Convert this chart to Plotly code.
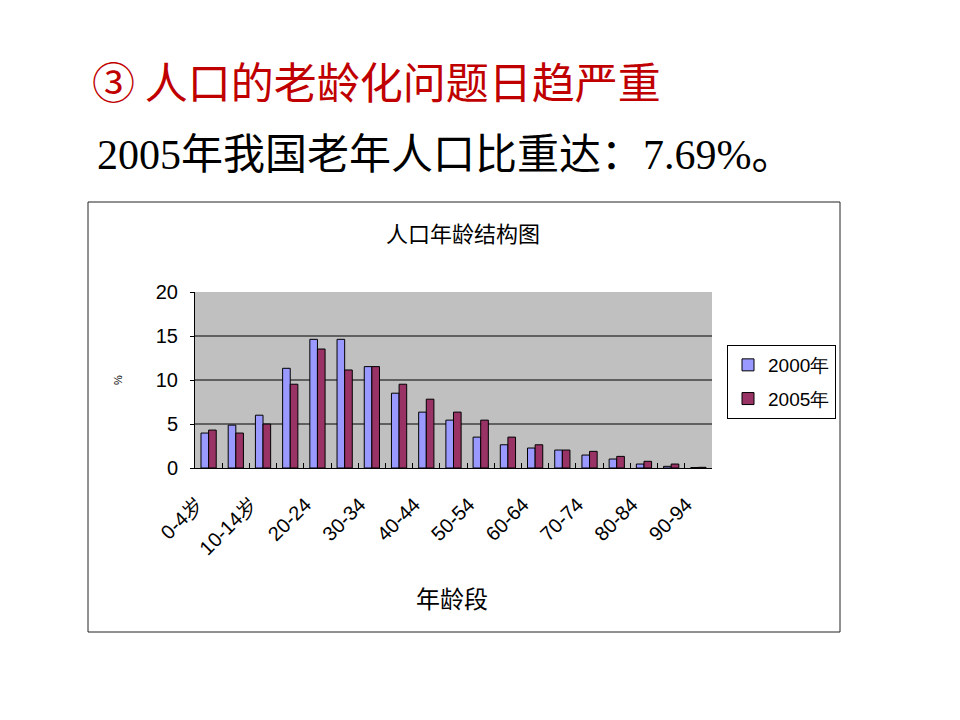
import plotly.graph_objects as go

categories = ["0-4岁", "5-9岁", "10-14岁", "15-19", "20-24", "25-29", "30-34", "35-39",
              "40-44", "45-49", "50-54", "55-59", "60-64", "65-69", "70-74", "75-79",
              "80-84", "85-89", "90-94"]
shown_labels = ["0-4岁", "", "10-14岁", "", "20-24", "", "30-34", "", "40-44", "",
                "50-54", "", "60-64", "", "70-74", "", "80-84", "", "90-94"]
pop_2000 = [3.97, 4.87, 6.0, 11.33, 14.62, 14.62, 11.52, 8.5, 6.35, 5.44,
            3.51, 2.64, 2.27, 2.04, 1.47, 1.02, 0.45, 0.19, 0.05]
pop_2005 = [4.31, 3.97, 4.99, 9.52, 13.52, 11.14, 11.52, 9.52, 7.82, 6.35,
            5.44, 3.51, 2.64, 2.04, 1.89, 1.32, 0.76, 0.45, 0.08]
series_names = ["2000年", "2005年"]
y_ticks = [0, 5, 10, 15, 20]
grid_values = [5, 10, 15]

W, H = 960, 720
def px(x): return x / W
def py(y): return 1 - y / H

fig = go.Figure()
fig.add_trace(go.Bar(x=categories, y=pop_2000, name=series_names[0], legendgroup="a",
                     marker=dict(color="#9999FF", line=dict(color="#000000", width=1))))
fig.add_trace(go.Bar(x=categories, y=pop_2005, name=series_names[1], legendgroup="b",
                     marker=dict(color="#993366", line=dict(color="#000000", width=1))))

shapes = [
    dict(type="rect", xref="paper", yref="paper", x0=px(88), x1=px(840), y0=py(632), y1=py(202),
         line=dict(color="#222222", width=1), fillcolor="rgba(0,0,0,0)", layer="below"),
]
for g in grid_values:
    shapes.append(dict(type="line", xref="x domain", yref="y", x0=0, x1=1, y0=g, y1=g,
                       line=dict(color="#000000", width=1.2), layer="below"))

annotations = [
    dict(text="③ 人口的老龄化问题日趋严重", x=px(90), y=py(80), xref="paper", yref="paper",
         xanchor="left", yanchor="middle", showarrow=False,
         font=dict(family="Noto Sans CJK SC", size=43, color="#C00000")),
    dict(text="2005年我国老年人口比重达：7.69%。", x=px(95), y=py(155), xref="paper", yref="paper",
         xanchor="left", yanchor="middle", showarrow=False,
         font=dict(family="Liberation Serif, Noto Sans CJK SC", size=42, color="#000000")),
    dict(text="人口年龄结构图", x=px(463), y=py(232), xref="paper", yref="paper",
         xanchor="center", yanchor="middle", showarrow=False,
         font=dict(family="Noto Sans CJK SC", size=22, color="#000000")),
    dict(text="年龄段", x=px(452), y=py(597), xref="paper", yref="paper",
         xanchor="center", yanchor="middle", showarrow=False,
         font=dict(family="Noto Sans CJK SC", size=24, color="#000000")),
    dict(text="%", x=px(118), y=py(380), xref="paper", yref="paper", textangle=-90,
         xanchor="center", yanchor="middle", showarrow=False,
         font=dict(family="Liberation Sans", size=11, color="#000000")),
]

fig.update_layout(
    width=W, height=H, autosize=False,
    margin=dict(l=0, r=0, t=0, b=0, pad=0, autoexpand=False),
    paper_bgcolor="#FFFFFF", plot_bgcolor="#C0C0C0",
    barmode="group", bargap=0.44, bargroupgap=0,
    showlegend=True,
    legend=dict(x=px(727), y=py(345), xanchor="left", yanchor="top",
                bgcolor="#FFFFFF", bordercolor="#000000", borderwidth=1,
                font=dict(family="Liberation Sans", size=19, color="#000000"),
                tracegroupgap=6, traceorder="grouped", itemwidth=30),
    xaxis=dict(domain=[px(195), px(712)], type="category", automargin=False,
               tickmode="array", tickvals=categories, ticktext=shown_labels,
               tickangle=-45, tickson="boundaries", ticks="inside", ticklen=5,
               tickcolor="#000000", showline=True, linecolor="#000000", linewidth=1,
               showgrid=False, ticklabelstandoff=16, ticklabelshift=-12,
               tickfont=dict(family="Liberation Sans", size=20, color="#000000")),
    yaxis=dict(domain=[py(468), py(292)], range=[0, 20], tickvals=y_ticks, automargin=False,
               ticks="outside", ticklen=4, tickcolor="#000000",
               showline=True, linecolor="#000000", linewidth=1,
               showgrid=False, zeroline=False, ticklabelstandoff=8,
               tickfont=dict(family="Liberation Sans", size=20, color="#000000")),
    shapes=shapes,
    annotations=annotations,
)

fig.write_html("out.html")
